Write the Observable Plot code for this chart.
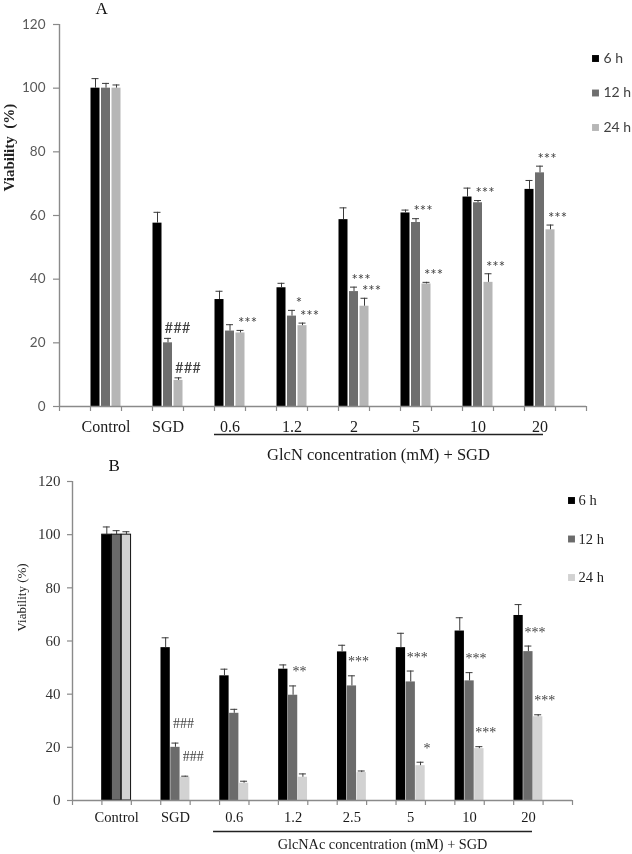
<!DOCTYPE html>
<html><head><meta charset="utf-8">
<script src="https://cdn.jsdelivr.net/npm/d3@7"></script>
<script src="https://cdn.jsdelivr.net/npm/@observablehq/plot@0.6"></script>
<style>
body{margin:0;background:#fff;}
#wrap{position:relative;width:632px;height:854px;overflow:hidden;background:#fff;}
#wrap svg{position:absolute;left:0;overflow:visible;will-change:transform;}
</style></head><body><div id="wrap"></div>
<script>
// ---------- data ----------
const series = ["6 h", "12 h", "24 h"];
const yTicks = [0, 20, 40, 60, 80, 100, 120];

// Panel A (GlcN)
const catsA = ["Control", "SGD", "0.6", "1.2", "2", "5", "10", "20"];
const a6h  = [100, 57.6, 33.6, 37.3, 58.7, 60.8, 65.8, 68.2];
const a12h = [100, 20.0, 23.7, 28.4, 36.1, 57.8, 64.0, 73.4];
const a24h = [100, 8.2, 23.1, 25.4, 31.5, 38.5, 39.0, 55.5];
const aErr6h  = [3.0, 3.4, 2.6, 1.4, 3.7, 0.9, 2.8, 2.8];
const aErr12h = [1.5, 1.4, 2.0, 1.8, 1.4, 1.2, 0.7, 2.1];
const aErr24h = [1.0, 0.8, 0.8, 0.8, 2.5, 0.5, 2.7, 1.5];
const aSig = [
  ["SGD", "12 h", "###"], ["SGD", "24 h", "###"],
  ["0.6", "24 h", "***"], ["1.2", "12 h", "*"], ["1.2", "24 h", "***"],
  ["2", "12 h", "***"], ["2", "24 h", "***"], ["5", "12 h", "***"], ["5", "24 h", "***"],
  ["10", "12 h", "***"], ["10", "24 h", "***"], ["20", "12 h", "***"], ["20", "24 h", "***"]
];
const titleA = "GlcN concentration (mM) + SGD";

// Panel B (GlcNAc)
const catsB = ["Control", "SGD", "0.6", "1.2", "2.5", "5", "10", "20"];
const b6h  = [100, 57.5, 46.9, 49.4, 55.9, 57.5, 63.75, 69.6];
const b12h = [100, 20.0, 32.8, 39.6, 43.1, 44.6, 45.0, 56.0];
const b24h = [100, 8.75, 6.5, 8.75, 10.5, 13.1, 19.5, 31.5];
const bErr6h  = [2.9, 3.7, 2.5, 1.6, 2.5, 5.4, 5.0, 4.1];
const bErr12h = [1.5, 1.6, 1.5, 3.5, 3.8, 4.1, 3.1, 2.1];
const bErr24h = [1.1, 0.4, 0.75, 1.25, 0.6, 1.3, 0.75, 0.75];
const bSig = [
  ["SGD", "12 h", "###"], ["SGD", "24 h", "###"],
  ["1.2", "12 h", "**"], ["2.5", "12 h", "***"], ["5", "12 h", "***"], ["5", "24 h", "*"],
  ["10", "12 h", "***"], ["10", "24 h", "***"], ["20", "12 h", "***"], ["20", "24 h", "***"]
];
const titleB = "GlcNAc concentration (mM) + SGD";

// ---------- drawing ----------
const SERIF = "Liberation Serif, Times New Roman, serif";
const SANS = "Lato, Carlito, sans-serif";

function panel(o) {
  const W = 632;
  const inner = W - o.ml - o.mr;
  const step = inner / (o.cats.length + 0.5);
  const off = {"6 h": -o.gap, "12 h": 0, "24 h": o.gap};
  const vals = o.vals, errs = o.errs;
  const rows = [];
  o.cats.forEach((c, i) => series.forEach((s, j) =>
    rows.push({cat: c, series: s, value: vals[j][i], err: errs[j][i]})));
  const find = (c, s) => rows.find(r => r.cat === c && r.series === s);
  const barInset = (step - o.barW) / 2;
  const capInset = (step - o.capW) / 2;
  const marks = [];

  series.forEach((s, j) => {
    const d = rows.filter(r => r.series === s);
    marks.push(Plot.barY(d, {x: "cat", y: "value", fill: o.colors[j], dx: off[s],
      insetLeft: barInset, insetRight: barInset,
      stroke: o.ctrlStroke ? (r => r.cat === o.cats[0] ? "#111" : "none") : null, strokeWidth: 1}));
    marks.push(Plot.ruleX(d, {x: "cat", y1: "value", y2: r => r.value + r.err, dx: off[s],
      stroke: o.errColor, strokeWidth: 1}));
    marks.push(Plot.tickY(d, {x: "cat", y: r => r.value + r.err, dx: off[s],
      insetLeft: capInset, insetRight: capInset, stroke: o.errColor, strokeWidth: 1}));
  });

  // axes
  marks.push(Plot.ruleY([0], {stroke: o.axisColor, strokeWidth: 1.4}));
  marks.push(Plot.ruleX([o.cats[0]], {x: d => d, y1: () => 0, y2: () => 120, dx: -0.75 * step,
    stroke: o.axisColor, strokeWidth: 1.4}));
  marks.push(Plot.ruleY(yTicks, {y: d => d, insetLeft: -o.yTickLen, insetRight: inner,
    stroke: o.axisColor, strokeWidth: 1.2}));
  marks.push(Plot.text(yTicks, {y: d => d, text: d => String(d), frameAnchor: "left",
    textAnchor: "end", dx: -(o.yTickLen + o.yPad), lineAnchor: "middle",
    fontFamily: o.yFont, fontSize: o.yFontSize, fill: o.yColor}));
  for (const k of [-0.25, 0.25]) {
    marks.push(Plot.ruleX(o.cats, {x: d => d, y1: () => 0, y2: () => 0, insetBottom: -5,
      dx: k * step, stroke: o.axisColor, strokeWidth: 1.2}));
  }
  marks.push(Plot.ruleX([o.cats[0]], {x: d => d, y1: () => 0, y2: () => 0, insetBottom: -5,
    dx: -0.75 * step, stroke: o.axisColor, strokeWidth: 1.2}));
  marks.push(Plot.ruleX([o.cats[o.cats.length - 1]], {x: d => d, y1: () => 0, y2: () => 0,
    insetBottom: -5, dx: 0.75 * step, stroke: o.axisColor, strokeWidth: 1.2}));
  marks.push(Plot.text(o.cats, {x: d => d, y: () => 0, dy: o.xLabelDy, text: d => d,
    lineAnchor: "middle", fontFamily: SERIF, fontSize: o.xFontSize, fill: "#1a1a1a"}));

  // significance marks
  series.forEach(s => {
    for (const hash of [true, false]) {
      const d = o.sig.filter(a => a[1] === s && (a[2][0] === "#") === hash)
        .map(a => ({...find(a[0], a[1]), label: a[2]}));
      if (!d.length) continue;
      marks.push(Plot.text(d, {x: "cat", y: r => r.value + r.err, text: "label",
        dx: off[s] + (hash ? o.hashDx : o.starDx), dy: hash ? o.hashDy : o.starDy,
        lineAnchor: "middle", fontFamily: o.sigFont, fontSize: o.sigSize, fill: o.sigColor}));
    }
  });

  // group underline + title
  marks.push(Plot.ruleY([0], {x1: () => o.cats[2], x2: () => o.cats[o.cats.length - 1],
    dy: o.lineDy, insetLeft: o.lineInsetL, insetRight: o.lineInsetR, stroke: "#222", strokeWidth: 1.3}));
  marks.push(Plot.text([o.groupTitle], {frameAnchor: "bottom", dx: o.titleDx, dy: o.titleDy,
    lineAnchor: "middle", fontFamily: SERIF, fontSize: o.titleSize, fill: "#1a1a1a"}));

  // panel letter & y title
  marks.push(Plot.text([o.letter], {frameAnchor: "top-left", dx: o.letterDx, dy: o.letterDy,
    lineAnchor: "middle", fontFamily: SERIF, fontSize: 17, fill: "#111"}));
  marks.push(Plot.text([o.yTitle], {frameAnchor: "left", rotate: -90, dx: o.yTitleDx, dy: o.yTitleDy,
    lineAnchor: "middle", fontFamily: SERIF, fontSize: o.yTitleSize, fontWeight: o.yTitleWeight, fill: "#222"}));

  // legend
  series.forEach((s, j) => {
    marks.push(Plot.dot([s], {frameAnchor: "top-right", dx: o.legSqDx, dy: o.legDy + j * o.legGap,
      symbol: "square", r: 3.9, fill: o.colors[j], stroke: null}));
    marks.push(Plot.text([s], {frameAnchor: "top-right", dx: o.legTxtDx, dy: o.legDy + j * o.legGap,
      text: d => d, textAnchor: "start", lineAnchor: "middle",
      fontFamily: o.legFont, fontSize: o.legSize, fill: o.legColor}));
  });

  const svg = Plot.plot({
    width: W, height: o.h,
    marginTop: o.mt, marginBottom: o.mb, marginLeft: o.ml, marginRight: o.mr,
    x: {type: "band", domain: o.cats, paddingInner: 0, paddingOuter: 0.25, round: false, axis: null},
    y: {domain: [0, 120], axis: null},
    style: {background: "transparent", overflow: "visible", color: "#222"},
    marks
  });
  svg.style.top = o.top + "px";
  return svg;
}

const wrap = document.getElementById("wrap");
wrap.appendChild(panel({
  top: 0, h: 455, mt: 24, mb: 49, ml: 59, mr: 46,
  cats: catsA, vals: [a6h, a12h, a24h], errs: [aErr6h, aErr12h, aErr24h], sig: aSig,
  colors: ["#000000", "#6e6e6e", "#b6b6b6"], errColor: "#3a3a3a", axisColor: "#8a8a8a",
  gap: 10.5, barW: 9, capW: 7, ctrlStroke: false,
  yTickLen: 6, yPad: 8, yFont: SANS, yFontSize: 13.5, yColor: "#595959",
  xLabelDy: 20, xFontSize: 16,
  sigFont: SANS, sigSize: 15, sigColor: "#404040", starDx: 7, starDy: -7, hashDx: 9.5, hashDy: -10,
  lineDy: 28, lineInsetL: 15.5, lineInsetR: 27.5, groupTitle: titleA, titleDx: 55.5, titleDy: 48, titleSize: 16.5,
  letter: "A", letterDx: 36, letterDy: -16,
  yTitle: "Viability  (%)", yTitleDx: -50, yTitleDy: -24, yTitleSize: 15, yTitleWeight: "bold",
  legSqDx: 9, legTxtDx: 17, legDy: 34, legGap: 34.5, legFont: SANS, legSize: 14, legColor: "#404040"
}));
wrap.appendChild(panel({
  top: 455, h: 399, mt: 26, mb: 54, ml: 72, mr: 60,
  cats: catsB, vals: [b6h, b12h, b24h], errs: [bErr6h, bErr12h, bErr24h], sig: bSig,
  colors: ["#000000", "#6b6b6b", "#d2d2d2"], errColor: "#3a3a3a", axisColor: "#8a8a8a",
  gap: 9.8, barW: 9.3, capW: 7, ctrlStroke: true,
  yTickLen: 5, yPad: 7, yFont: SERIF, yFontSize: 15, yColor: "#333",
  xLabelDy: 17, xFontSize: 14.5,
  sigFont: SERIF, sigSize: 14, sigColor: "#444", starDx: 6.5, starDy: -14, hashDx: 8, hashDy: -20,
  lineDy: 31, lineInsetL: 8.7, lineInsetR: 25.3, groupTitle: titleB, titleDx: 60, titleDy: 44, titleSize: 14.3,
  letter: "B", letterDx: 36, letterDy: -15.5,
  yTitle: "Viability (%)", yTitleDx: -51, yTitleDy: -9.5, yTitleSize: 13, yTitleWeight: "normal",
  legSqDx: -1, legTxtDx: 6, legDy: 19, legGap: 38.5, legFont: SERIF, legSize: 14.5, legColor: "#222"
}));
</script>
</body></html>
